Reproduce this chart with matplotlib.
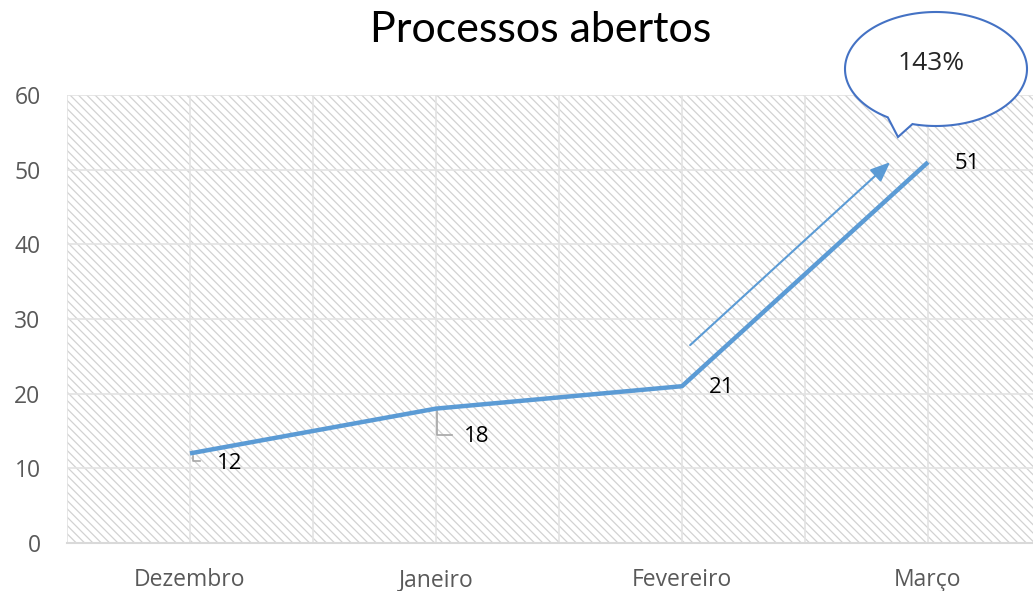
import matplotlib
matplotlib.use("Agg")
import matplotlib.pyplot as plt
from matplotlib.patches import Rectangle, Polygon
import numpy as np

meses = ["Dezembro", "Janeiro", "Fevereiro", "Março"]
processos = [12, 18, 21, 51]
rotulos = ["12", "18", "21", "51"]
variacao = "143%"

W, H = 1033, 591
plt.rcParams["hatch.linewidth"] = 0.9
fig = plt.figure(figsize=(W / 100, H / 100), dpi=100)

def fx(px):
    return px / W

def fy(py):
    return 1 - py / H

# plot area: left 67px, bottom 543px, top 95px, runs off the right edge
ax = fig.add_axes([fx(67), fy(543), 1 - fx(67), fy(95) - fy(543)])
x = np.arange(len(meses))
ax.set_xlim(-0.5, -0.5 + (W - 67) / 246)
ax.set_ylim(0, 60)

grid_c = "#e3e3e3"
ax.add_patch(Rectangle((0, 0), 1, 1, transform=ax.transAxes, facecolor="white",
                       edgecolor="#d2d2d2", hatch="\\\\\\\\", lw=0, zorder=0))
for yv in range(10, 61, 10):
    ax.axhline(yv, color=grid_c, lw=1.2, zorder=1)
for xv in np.arange(-0.5, 4.0, 0.5):
    ax.axvline(xv, color=grid_c, lw=1.2, zorder=1)
for s in ["top", "right", "left"]:
    ax.spines[s].set_visible(False)
ax.spines["bottom"].set_color("#d9d9d9")
ax.spines["bottom"].set_linewidth(1.5)

ax.set_yticks(range(0, 61, 10))
ax.set_xticks(x)
ax.set_xticklabels(meses)
ax.tick_params(length=0, labelsize=16.5, labelcolor="#595959")
ax.tick_params(axis="y", pad=19)
ax.tick_params(axis="x", pad=18)
for lbl in ax.get_xticklabels() + ax.get_yticklabels():
    lbl.set_fontfamily("Open Sans")

azul = "#5b9bd5"
ax.plot(x, processos, color=azul, lw=3.2, zorder=3, solid_capstyle="butt")

# data labels (offsets in pixels)
offs = [(40, -10), (41, -28), (40, -1), (39, -1)]
for i, (v, t) in enumerate(zip(processos, rotulos)):
    ax.annotate(t, (i, v), xytext=(offs[i][0] * 0.72, offs[i][1] * 0.72),
                textcoords="offset points", ha="center", va="center",
                fontsize=16, family="Open Sans", color="black", zorder=4)

# leader lines
def leader(i, pts):
    base = ax.transData.transform((i, processos[i]))
    disp = [(base[0] + p[0], base[1] - p[1]) for p in pts]
    d = ax.transData.inverted().transform(disp)
    ax.plot(d[:, 0], d[:, 1], color="#a6a6a6", lw=1.2, zorder=2)

leader(0, [(3, 3), (3, 8), (10, 8)])
leader(1, [(1, 2), (1, 26), (16, 26)])

# growth arrow
ax.annotate("", xy=(2.846, 51.0), xytext=(2.033, 26.5),
            arrowprops=dict(arrowstyle="-|>,head_length=0.6,head_width=0.25",
                            color=azul, lw=1.5,
                            mutation_scale=20, shrinkA=0, shrinkB=0), zorder=3)

# speech bubble
cx, cy, rx, ry = 936, 69, 91, 57
th = np.radians(np.linspace(122, 105 + 360, 200))
pts = [(fx(cx + rx * np.cos(t)), fy(cy + ry * np.sin(t))) for t in th]
pts.append((fx(898), fy(137)))
fig.patches.append(Polygon(pts, closed=True, transform=fig.transFigure,
                           facecolor="white", edgecolor="#4472c4", lw=1.5, zorder=5))
fig.text(fx(931), fy(64), variacao, ha="center", va="center", fontsize=19,
         family="Open Sans", color="#262626", zorder=6)

fig.text(fx(541), fy(30), "Processos abertos", ha="center", va="center",
         fontsize=31, family="Lato", color="black")

fig.savefig("out.png", dpi=100)
